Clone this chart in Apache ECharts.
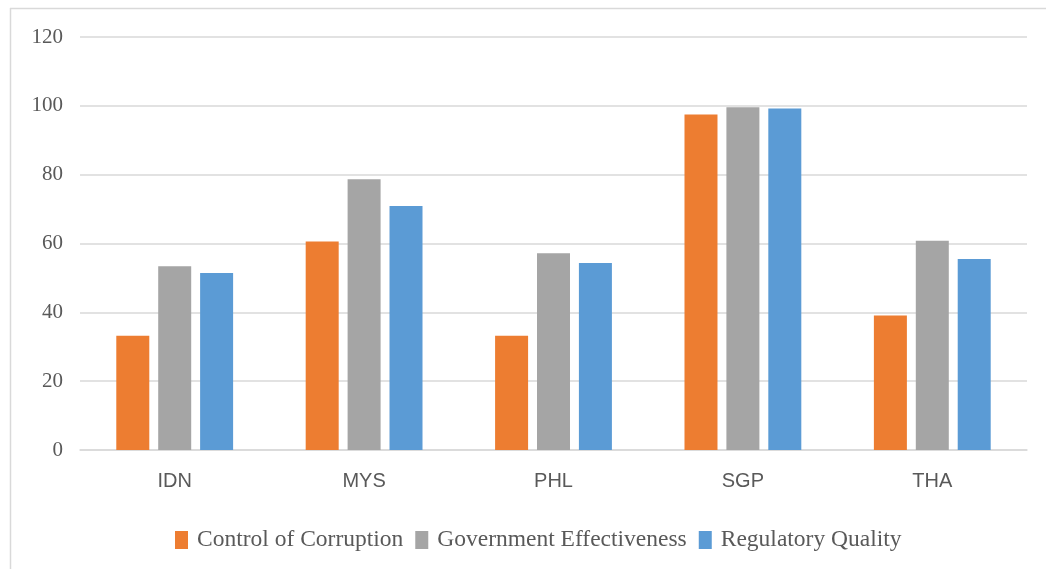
<!DOCTYPE html>
<html>
<head>
<meta charset="utf-8">
<style>
html,body{margin:0;padding:0;background:#fff;}
#chart{width:1046px;height:569px;}
</style>
<script src="https://cdn.jsdelivr.net/npm/echarts@6/dist/echarts.min.js"></script>
</head>
<body>
<div id="chart"></div>
<script>
const categories = ['IDN', 'MYS', 'PHL', 'SGP', 'THA'];
const seriesNames = ['Control of Corruption', 'Government Effectiveness', 'Regulatory Quality'];
const controlOfCorruption = [33.2, 60.6, 33.2, 97.5, 39.1];
const governmentEffectiveness = [53.4, 78.7, 57.2, 99.6, 60.8];
const regulatoryQuality = [51.4, 70.9, 54.3, 99.2, 55.5];
const yTicks = [0, 20, 40, 60, 80, 100, 120];
const colors = ['#ED7D31', '#A5A5A5', '#5B9BD5'];

const chart = echarts.init(document.getElementById('chart'), null, {renderer: 'canvas'});
const values = [controlOfCorruption, governmentEffectiveness, regulatoryQuality];
chart.setOption({
  animation: false,
  backgroundColor: '#ffffff',
  graphic: [
    {type: 'line', shape: {x1: 10.5, y1: 8, x2: 10.5, y2: 569}, style: {stroke: '#D9D9D9', lineWidth: 1.5}},
    {type: 'line', shape: {x1: 10, y1: 8.5, x2: 1046, y2: 8.5}, style: {stroke: '#D9D9D9', lineWidth: 1.5}}
  ],
  grid: {left: 80, right: 19, top: 37, bottom: 119, containLabel: false},
  legend: {
    data: seriesNames,
    left: 175,
    top: 528,
    padding: 0,
    itemWidth: 13,
    itemHeight: 18,
    itemGap: 12,
    icon: 'rect',
    textStyle: {fontFamily: 'Liberation Serif', fontSize: 23.5, color: '#595959', padding: [0, 0, 0, 4]}
  },
  xAxis: {
    type: 'category',
    data: categories,
    axisLine: {lineStyle: {color: '#D9D9D9', width: 1.5}},
    axisTick: {show: false},
    axisLabel: {fontFamily: '"Liberation Sans Narrow", "Liberation Sans", sans-serif', fontSize: 20, color: '#595959', margin: 21}
  },
  yAxis: {
    type: 'value',
    min: yTicks[0],
    max: yTicks[yTicks.length - 1],
    interval: 20,
    axisLine: {show: false},
    axisTick: {show: false},
    splitLine: {lineStyle: {color: '#D9D9D9', width: 1.5}},
    axisLabel: {fontFamily: 'Liberation Serif', fontSize: 21, color: '#595959', margin: 17}
  },
  series: seriesNames.map((name, i) => ({
    name: name,
    type: 'bar',
    data: values[i],
    barWidth: 33,
    barGap: '27%',
    itemStyle: {color: colors[i]}
  }))
});
</script>
</body>
</html>
